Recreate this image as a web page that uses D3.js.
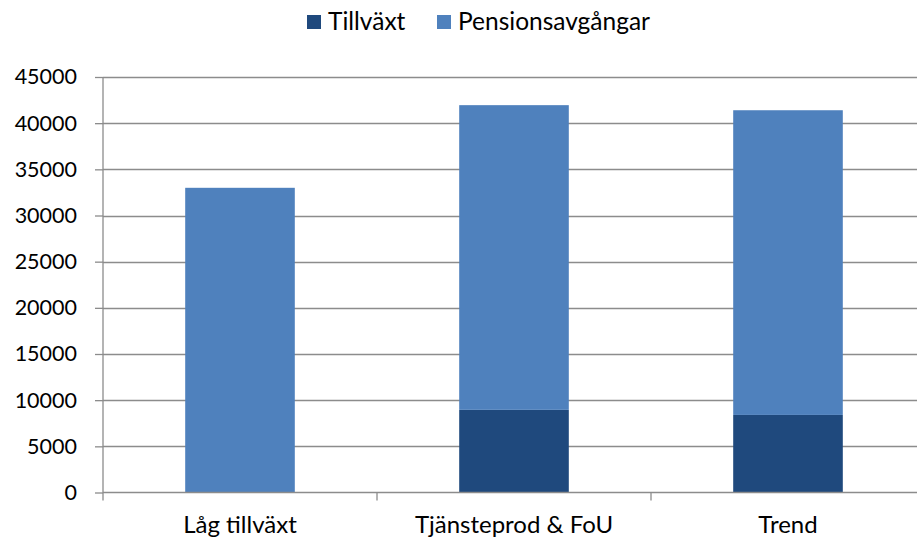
<!DOCTYPE html>
<html>
<head>
<meta charset="utf-8">
<script src="https://cdn.jsdelivr.net/npm/d3@7"></script>
<style>
  body { margin: 0; background: #fff; }
  svg { display: block; font-family: Lato, "Open Sans", sans-serif; }
</style>
</head>
<body>
<svg id="chart" width="917" height="538"></svg>
<script>
const categories = ['Låg tillväxt', 'Tjänsteprod & FoU', 'Trend'];
const tillvaxt = [0, 8950, 8400];
const pension = [33000, 33000, 33000];
const seriesNames = ['Tillväxt', 'Pensionsavgångar'];
const yTicks = [0, 5000, 10000, 15000, 20000, 25000, 30000, 35000, 40000, 45000];

const COLORS = { 'Tillväxt': '#1f497d', 'Pensionsavgångar': '#4f81bd' };
const svg = d3.select('#chart');
const margin = { left: 103, right: -8, top: 77, bottom: 45.5 };
const W = 917, H = 538;

const x = d3.scaleBand().domain(categories).range([margin.left, W - margin.right]).paddingInner(0.6).paddingOuter(0.3);
const y = d3.scaleLinear().domain([0, 45000]).range([H - margin.bottom, margin.top]);

const rows = categories.map((c, i) => ({ cat: c, 'Tillväxt': tillvaxt[i], 'Pensionsavgångar': pension[i] }));
const stacked = d3.stack().keys(seriesNames)(rows);

// gridlines
svg.append('g').selectAll('line').data(yTicks.filter(t => t > 0)).join('line')
  .attr('x1', margin.left).attr('x2', W).attr('y1', d => Math.round(y(d)) + 0.5).attr('y2', d => Math.round(y(d)) + 0.5)
  .attr('stroke', '#8c8c8c').attr('stroke-width', 1.3);

// bars
svg.append('g').selectAll('g').data(stacked).join('g')
  .attr('fill', d => COLORS[d.key])
  .selectAll('rect').data(d => d.filter(s => s[1] - s[0] > 0)).join('rect')
  .attr('x', d => x(d.data.cat)).attr('width', x.bandwidth())
  .attr('y', d => y(d[1])).attr('height', d => y(d[0]) - y(d[1]));

// y axis
const yAxis = svg.append('g').attr('transform', `translate(${margin.left},0)`)
  .call(d3.axisLeft(y).tickValues(yTicks).tickSize(8).tickPadding(18).tickFormat(d3.format('d')));
yAxis.select('.domain').attr('stroke', '#8c8c8c').attr('stroke-width', 1.3).attr('d', `M0,${y(45000)}V${y(0) + 8}`);
yAxis.selectAll('.tick line').attr('stroke', '#8c8c8c').attr('stroke-width', 1.3);
yAxis.selectAll('.tick text').attr('font-size', 21.5).attr('fill', '#000').attr('font-family', 'Lato, sans-serif');

// x axis
const bounds = d3.range(1, categories.length).map(i => margin.left + i * (W - margin.right - margin.left) / categories.length);
const xg = svg.append('g');
xg.append('line').attr('x1', margin.left).attr('x2', W).attr('y1', y(0)).attr('y2', y(0))
  .attr('stroke', '#8c8c8c').attr('stroke-width', 1.3);
xg.selectAll('line.tk').data(bounds).join('line').attr('class', 'tk')
  .attr('x1', d => d).attr('x2', d => d).attr('y1', y(0)).attr('y2', y(0) + 8)
  .attr('stroke', '#8c8c8c').attr('stroke-width', 1.3);
xg.selectAll('text').data(categories).join('text')
  .attr('x', d => x(d) + x.bandwidth() / 2).attr('y', 533)
  .attr('text-anchor', 'middle').attr('font-size', 24).attr('fill', '#000').text(d => d);

// legend
const legendItems = [{ name: 'Tillväxt', x: 307 }, { name: 'Pensionsavgångar', x: 437 }];
const lg = svg.append('g').selectAll('g').data(legendItems).join('g').attr('transform', d => `translate(${d.x},15)`);
lg.append('rect').attr('width', 14).attr('height', 14).attr('fill', d => COLORS[d.name]);
lg.append('text').attr('x', 21).attr('y', 15).attr('font-size', 24.5).attr('fill', '#000').text(d => d.name);
</script>
</body>
</html>
